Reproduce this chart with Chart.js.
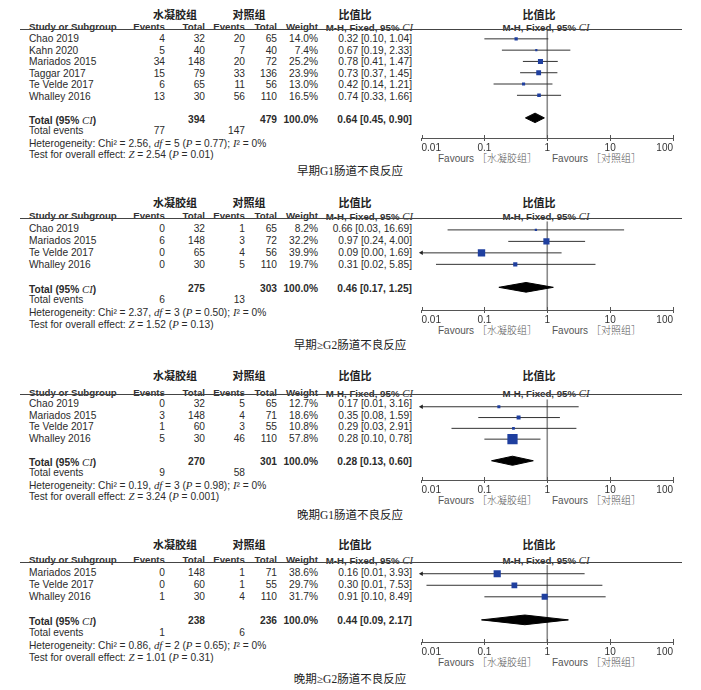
<!DOCTYPE html>
<html><head><meta charset="utf-8">
<script src="https://cdn.jsdelivr.net/npm/chart.js@4.4.0/dist/chart.umd.min.js"></script>
<style>
html,body{margin:0;padding:0;background:#fff;}
#root{position:relative;width:701px;height:690px;overflow:hidden;background:#fff;}
.t{position:absolute;line-height:14px;white-space:nowrap;font-family:'Liberation Sans',Arial,sans-serif;font-size:10.2px;color:#2b2b2b;}
.h{font-weight:bold;font-size:9.7px;color:#333;}
.b{font-weight:bold;}
.cn{font-family:'Noto Sans CJK SC';font-weight:bold;font-size:11px;color:#222;}
.cap{font-family:'Liberation Serif','Noto Sans CJK SC';font-size:11.5px;color:#222;}
.fav{color:#555;font-size:10px;}
.fav span{font-family:'Noto Sans CJK SC';font-weight:300;}
.t i{font-family:'Liberation Serif';font-size:10.8px;font-weight:normal;}
.line{position:absolute;height:1px;background:#444;}
canvas{position:absolute;}
</style></head><body><div id="root"></div>
<script>
// ---------------- DATA ----------------
const panelTitles = ['早期G1肠道不良反应', '早期≥G2肠道不良反应', '晚期G1肠道不良反应', '晚期≥G2肠道不良反应'];
const groupExp = '水凝胶组';
const groupCtrl = '对照组';
const effectTitle = '比值比';
const studyNames = [
  ['Chao 2019', 'Kahn 2020', 'Mariados 2015', 'Taggar 2017', 'Te Velde 2017', 'Whalley 2016'],
  ['Chao 2019', 'Mariados 2015', 'Te Velde 2017', 'Whalley 2016'],
  ['Chao 2019', 'Mariados 2015', 'Te Velde 2017', 'Whalley 2016'],
  ['Mariados 2015', 'Te Velde 2017', 'Whalley 2016']
];
const expEvents = [[4, 5, 34, 15, 6, 13], [0, 6, 0, 0], [0, 3, 1, 5], [0, 0, 1]];
const expTotals = [[32, 40, 148, 79, 65, 30], [32, 148, 65, 30], [32, 148, 60, 30], [148, 60, 30]];
const ctrlEvents = [[20, 7, 20, 33, 11, 56], [1, 3, 4, 5], [5, 4, 3, 46], [1, 1, 4]];
const ctrlTotals = [[65, 40, 72, 136, 56, 110], [65, 72, 56, 110], [65, 71, 55, 110], [71, 55, 110]];
const weights = [[14.0, 7.4, 25.2, 23.9, 13.0, 16.5], [8.2, 32.2, 39.9, 19.7], [12.7, 18.6, 10.8, 57.8], [38.6, 29.7, 31.7]];
const oddsRatios = [[0.32, 0.67, 0.78, 0.73, 0.42, 0.74], [0.66, 0.97, 0.09, 0.31], [0.17, 0.35, 0.29, 0.28], [0.16, 0.30, 0.91]];
const ciLower = [[0.10, 0.19, 0.41, 0.37, 0.14, 0.33], [0.026, 0.24, 0.004, 0.017], [0.006, 0.08, 0.03, 0.10], [0.006, 0.012, 0.10]];
const ciUpper = [[1.04, 2.33, 1.47, 1.45, 1.21, 1.66], [16.69, 4.00, 1.69, 5.85], [3.16, 1.59, 2.91, 0.78], [3.93, 7.53, 8.49]];
const pooledOR = [0.64, 0.46, 0.28, 0.44];
const pooledLower = [0.45, 0.17, 0.13, 0.09];
const pooledUpper = [0.90, 1.25, 0.60, 2.17];
const expTotalSum = [394, 275, 270, 238];
const ctrlTotalSum = [479, 303, 301, 236];
const expEventSum = [77, 6, 9, 1];
const ctrlEventSum = [147, 13, 58, 6];
const hetChi2 = ['2.56', '2.37', '0.19', '0.86'];
const hetDf = [5, 3, 3, 2];
const hetP = ['0.77', '0.50', '0.98', '0.65'];
const hetI2 = [0, 0, 0, 0];
const zValue = ['2.54', '1.52', '3.24', '1.01'];
const zP = ['0.01', '0.13', '0.001', '0.31'];
const tickValues = [0.01, 0.1, 1, 10, 100];
const tickLabels = ['0.01', '0.1', '1', '10', '100'];

// ---------------- LAYOUT ----------------
const W = 701;
const layout = [
  {cnY: 12.7, hdY: 25, L: 29, row0: 37, rowH: 11.5, axisY: 138, capY: 170},
  {cnY: 200, hdY: 214.3, L: 218, row0: 227, rowH: 11.9, axisY: 310, capY: 344},
  {cnY: 373.3, hdY: 390.7, L: 394, row0: 402, rowH: 11.5, axisY: 480, capY: 514},
  {cnY: 542, hdY: 558.3, L: 562, row0: 571, rowH: 12, axisY: 642, capY: 678}
];
const col = {name: 29, ev1: 165, tot1: 205, ev2: 245, tot2: 277, wt: 318, or: 412};
const root = document.getElementById('root');

function put(x, y, html, cls, align, dy) {
  const d = document.createElement('div');
  d.className = 't ' + (cls || '');
  d.innerHTML = html;
  d.style.top = (y - 7 + (dy === undefined ? 2 : dy)) + 'px';
  if (align === 'right') d.style.right = (W - x) + 'px';
  else if (align === 'center') { d.style.left = x + 'px'; d.style.transform = 'translateX(-50%)'; }
  else d.style.left = x + 'px';
  root.appendChild(d);
}
const f2 = v => v.toFixed(2);
const orText = (o, l, u) => `${f2(o)} [${f2(l)}, ${f2(u)}]`;

Chart.defaults.font.family = "'Liberation Sans', Arial, sans-serif";

const upTicks = {
  id: 'upTicks',
  afterDraw(chart) {
    const s = chart.scales.x, ctx = chart.ctx, y = chart.chartArea.bottom;
    ctx.save(); ctx.strokeStyle = '#555'; ctx.lineWidth = 1;
    s.ticks.forEach(t => {
      const x = Math.round(s.getPixelForValue(t.value)) + 0.5;
      ctx.beginPath(); ctx.moveTo(x, y - 3); ctx.lineTo(x, y); ctx.stroke();
    });
    ctx.restore();
  }
};

panelTitles.forEach((title, k) => {
  const lay = layout[k];
  const n = studyNames[k].length;
  const rowY = i => lay.row0 + i * lay.rowH;
  // headers
  put(175, lay.cnY, groupExp, 'cn', 'center', 1.5);
  put(249, lay.cnY, groupCtrl, 'cn', 'center', 1.5);
  put(355, lay.cnY, effectTitle, 'cn', 'center', 1.5);
  put(539, lay.cnY, effectTitle, 'cn', 'center', 1.5);
  put(col.name, lay.hdY, 'Study or Subgroup', 'h');
  put(col.ev1, lay.hdY, 'Events', 'h', 'right');
  put(col.tot1, lay.hdY, 'Total', 'h', 'right');
  put(col.ev2, lay.hdY, 'Events', 'h', 'right');
  put(col.tot2, lay.hdY, 'Total', 'h', 'right');
  put(col.wt, lay.hdY, 'Weight', 'h', 'right');
  put(col.or + 1, lay.hdY, 'M-H, Fixed, 95% <i>CI</i>', 'h', 'right');
  put(546, lay.hdY, 'M-H, Fixed, 95% <i>CI</i>', 'h', 'center');
  const ln = document.createElement('div');
  ln.className = 'line'; ln.style.left = '20px'; ln.style.width = '662px'; ln.style.top = (lay.L - 0.5) + 'px';
  root.appendChild(ln);
  // rows
  studyNames[k].forEach((nm, i) => {
    const y = rowY(i);
    put(col.name, y, nm);
    put(col.ev1, y, expEvents[k][i], '', 'right');
    put(col.tot1, y, expTotals[k][i], '', 'right');
    put(col.ev2, y, ctrlEvents[k][i], '', 'right');
    put(col.tot2, y, ctrlTotals[k][i], '', 'right');
    put(col.wt, y, weights[k][i].toFixed(1) + '%', '', 'right');
    put(col.or, y, orText(oddsRatios[k][i], ciLower[k][i], ciUpper[k][i]), '', 'right');
  });
  const ty = rowY(n + 1);
  put(col.name, ty, 'Total (95% <i>CI</i>)', 'b');
  put(col.tot1, ty, expTotalSum[k], 'b', 'right');
  put(col.tot2, ty, ctrlTotalSum[k], 'b', 'right');
  put(col.wt, ty, '100.0%', 'b', 'right');
  put(col.or, ty, orText(pooledOR[k], pooledLower[k], pooledUpper[k]), 'b', 'right');
  put(col.name, rowY(n + 2), 'Total events');
  put(col.ev1, rowY(n + 2), expEventSum[k], '', 'right');
  put(col.ev2, rowY(n + 2), ctrlEventSum[k], '', 'right');
  put(col.name, rowY(n + 3), `Heterogeneity: Chi² = ${hetChi2[k]}, <i>df</i> = ${hetDf[k]} (<i>P</i> = ${hetP[k]}); <i>I</i>² = ${hetI2[k]}%`);
  put(col.name, rowY(n + 4), `Test for overall effect: <i>Z</i> = ${zValue[k]} (<i>P</i> = ${zP[k]})`);
  put(438, lay.axisY + 19, `Favours <span>［${groupExp}］</span>`, 'fav', 'left', 1);
  put(552, lay.axisY + 19, `Favours <span>［${groupCtrl}］</span>`, 'fav', 'left', 1);
  put(350, lay.capY, title, 'cap', 'center', 1);

  // chart
  const cv = document.createElement('canvas');
  const cTop = lay.L - 2;
  const cH = lay.axisY - lay.L + 2 + 18;
  cv.width = 290; cv.height = cH;
  cv.style.left = '400px'; cv.style.top = cTop + 'px';
  cv.style.width = '290px'; cv.style.height = cH + 'px';
  root.appendChild(cv);
  const yMin = -(lay.row0 - lay.L) / lay.rowH;
  const yMax = (lay.axisY - lay.row0) / lay.rowH;
  const xMin = tickValues[0];
  const ds = [];
  ds.push({data: [{x: 1, y: yMin}, {x: 1, y: yMax}], showLine: true, borderColor: '#8a8a8a', borderWidth: 1.6, pointRadius: 0, order: 6});
  const arrows = [];
  studyNames[k].forEach((nm, i) => {
    const lo = ciLower[k][i];
    if (lo < xMin) arrows.push({x: xMin, y: i});
    ds.push({data: [{x: Math.max(lo, xMin), y: i}, {x: ciUpper[k][i], y: i}], showLine: true, borderColor: '#333', borderWidth: 1, pointRadius: 0, order: 4});
  });
  ds.push({data: arrows, pointStyle: 'triangle', pointRotation: -90, pointRadius: 2.6, backgroundColor: '#222', borderColor: '#222', borderWidth: 0, clip: false, order: 3});
  ds.push({
    data: studyNames[k].map((nm, i) => ({x: oddsRatios[k][i], y: i})),
    pointStyle: 'rect',
    pointRadius: weights[k].map(w => (1 + 0.16 * w) / Math.SQRT2),
    backgroundColor: '#1f3f9f', borderWidth: 0, order: 2
  });
  const t = n + 1, h = 0.42;
  ds.push({
    data: [{x: pooledLower[k], y: t}, {x: pooledOR[k], y: t - h}, {x: pooledUpper[k], y: t}, {x: pooledOR[k], y: t + h}, {x: pooledLower[k], y: t}],
    showLine: true, fill: 'shape', backgroundColor: '#000', borderColor: '#000', borderWidth: 1, pointRadius: 0, tension: 0, order: 1
  });
  new Chart(cv, {
    type: 'scatter',
    data: {datasets: ds},
    options: {
      responsive: false, animation: false, devicePixelRatio: 1,
      layout: {padding: {left: 21.5, right: 17, top: 2, bottom: 0}},
      plugins: {legend: {display: false}, tooltip: {enabled: false}},
      events: [],
      scales: {
        x: {
          type: 'logarithmic', min: tickValues[0], max: tickValues[tickValues.length - 1],
          afterBuildTicks: s => { s.ticks = tickValues.map(v => ({value: v})); },
          afterFit: s => { s.height = 18; },
          ticks: {align: 'inner', autoSkip: false, maxRotation: 0, minRotation: 0, padding: 1, color: '#333', font: {size: 10}, callback: (v, i) => tickLabels[i]},
          grid: {drawOnChartArea: false, drawTicks: true, tickLength: 3, color: '#555', lineWidth: 1},
          border: {display: true, color: '#555', width: 1}
        },
        y: {type: 'linear', reverse: true, min: yMin, max: yMax, display: false}
      }
    },
    plugins: [upTicks]
  });
});
</script></body></html>
